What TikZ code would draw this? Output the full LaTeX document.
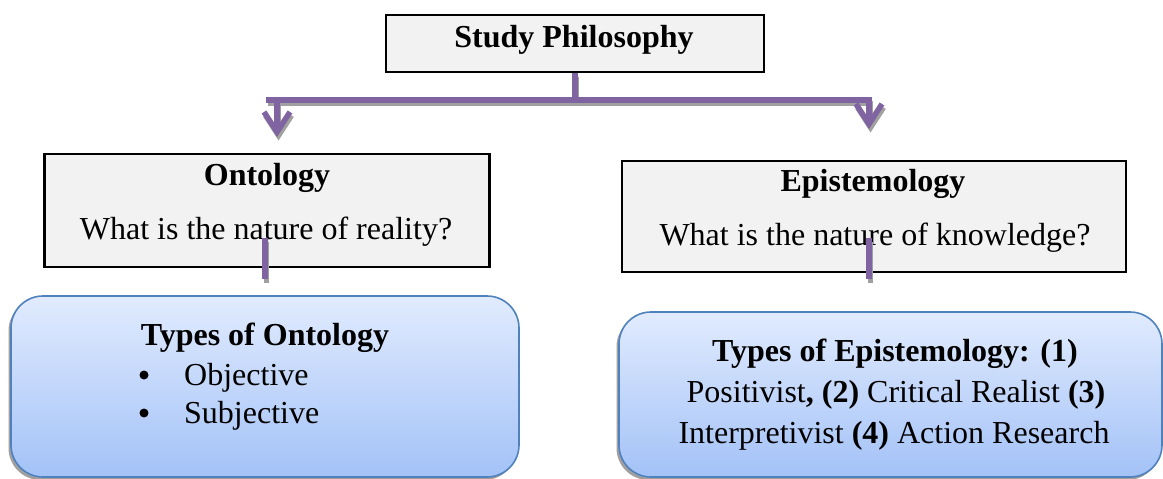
\documentclass[tikz,border=0pt]{standalone}
\usepackage{fontspec}
\setmainfont{Liberation Serif}
\usetikzlibrary{arrows.meta,shadows}
\definecolor{pipe}{HTML}{8064A2}
\definecolor{pipeshade}{HTML}{A0A0A0}
\definecolor{boxgray}{HTML}{F2F2F2}
\definecolor{rimblue}{HTML}{4F81BD}
\definecolor{skytop}{HTML}{E1EBFE}
\definecolor{skybottom}{HTML}{A3C2F7}
\begin{document}
\begin{tikzpicture}[x=1pt,y=-1pt,
  every node/.style={font=\fontsize{32}{38}\selectfont, inner sep=0pt},
  plainbox/.style={draw=black, line width=2.2pt, fill=boxgray, rectangle},
  softbox/.style={draw=rimblue, line width=1.6pt, rounded corners=32pt,
    top color=skytop, bottom color=skybottom,
    general shadow={fill=pipeshade, shadow xshift=-2.5pt, shadow yshift=-3pt}},
  txt/.style={anchor=base},
  dot/.style={circle, fill=black, minimum size=9pt},
  pipeline/.style={draw=pipe, line width=5.5pt},
  shadeline/.style={draw=pipeshade, line width=5.5pt,
    transform canvas={shift={(1.5pt,-3.5pt)}}},
  tipped/.style={-{Straight Barb[length=20pt,width=26pt,line width=5.5pt]}}
]
\useasboundingbox (0,0) rectangle (1163,479);

% boxes
\node[plainbox, minimum width=378pt, minimum height=57pt] (top) at (575,43.5) {};
\node[plainbox, minimum width=445pt, minimum height=113pt] (onto) at (267,210.5) {};
\node[plainbox, minimum width=504pt, minimum height=111pt] (epi) at (874,216.5) {};
\node[softbox, minimum width=508pt, minimum height=181pt] (ontotypes) at (265,386.5) {};
\node[softbox, minimum width=543pt, minimum height=165pt] (epitypes) at (890.5,394.5) {};

% texts
\node[txt] (toptxt) at (574,47) {\textbf{Study Philosophy}};
\node[txt] (ontohead) at (267,185) {\textbf{Ontology}};
\node[txt] (ontoq) at (266,239) {What is the nature of reality?};
\node[txt] (epihead) at (873,191) {\textbf{Epistemology}};
\node[txt] (epiq) at (875,245) {What is the nature of knowledge?};
\node[txt] (ontotitle) at (265,345) {\textbf{Types of Ontology}};
\node[dot] (bulA) at (144,375) {};
\node[txt, anchor=base west] (itemA) at (184,385) {Objective};
\node[dot] (bulB) at (144,413) {};
\node[txt, anchor=base west] (itemB) at (184,423) {Subjective};
\node[txt] (epiA) at (895,361) {\textbf{Types of Epistemology: (1)}};
\node[txt] (epiB) at (896,402) {Positivist\textbf{, (2)} Critical Realist \textbf{(3)}};
\node[txt] (epiC) at (894,443) {Interpretivist \textbf{(4)} Action Research};

% connector points
\coordinate (hub) at (575,100);
\coordinate (barL) at (266,100);
\coordinate (barR) at (871.75,100);
\coordinate (dropL) at (277,100);
\coordinate (tipL) at (277,137);
\coordinate (dropR) at (869,97.25);
\coordinate (tipR) at (869,129);
\coordinate (stubLa) at (265,238);
\coordinate (stubLb) at (265,279);
\coordinate (stubRa) at (869,238);
\coordinate (stubRb) at (869,279);

% shadows of the connectors
\draw[shadeline] (top.south) -- (hub);
\draw[shadeline] (barL) -- (barR);
\draw[shadeline, tipped] (dropL) -- (tipL);
\draw[shadeline, tipped] (dropR) -- (tipR);
\draw[shadeline] (stubLa) -- (stubLb);
\draw[shadeline] (stubRa) -- (stubRb);

% connectors
\draw[pipeline] (top.south) -- (hub);
\draw[pipeline] (barL) -- (barR);
\draw[pipeline, tipped] (dropL) -- (tipL);
\draw[pipeline, tipped] (dropR) -- (tipR);
\draw[pipeline] (stubLa) -- (stubLb);
\draw[pipeline] (stubRa) -- (stubRb);
\end{tikzpicture}
\end{document}
